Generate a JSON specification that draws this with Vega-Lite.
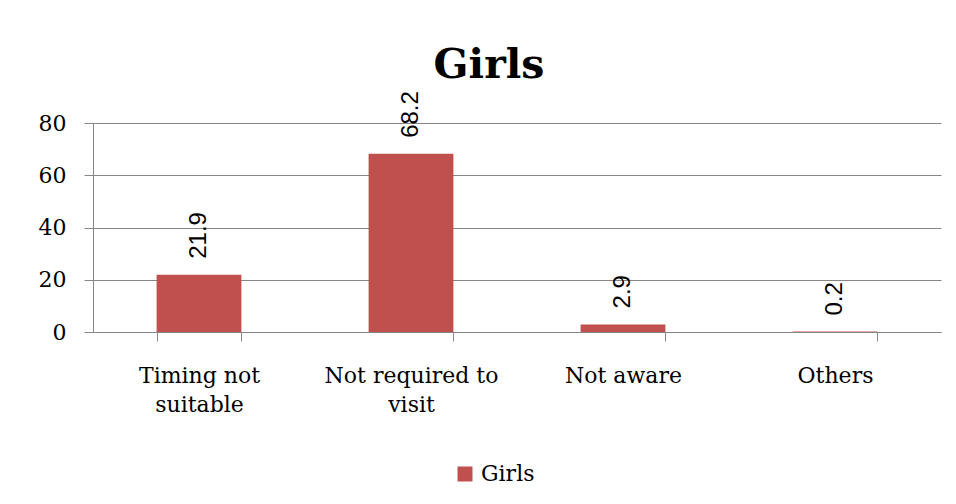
{
  "$schema": "https://vega.github.io/schema/vega-lite/v6.json",
  "width": 848,
  "height": 209,
  "autosize": {"type": "none"},
  "padding": {"left": 93, "top": 123, "right": 15, "bottom": 172},
  "background": "white",
  "title": {
    "text": "Girls",
    "font": "DejaVu Serif",
    "fontSize": 41,
    "fontWeight": "bold",
    "color": "#000000",
    "anchor": "middle",
    "dx": -28,
    "offset": 4
  },
  "data": {
    "values": [
      {"reason": "Timing not suitable", "value": 21.9, "series": "Girls"},
      {"reason": "Not required to visit", "value": 68.2, "series": "Girls"},
      {"reason": "Not aware", "value": 2.9, "series": "Girls"},
      {"reason": "Others", "value": 0.2, "series": "Girls"}
    ]
  },
  "encoding": {
    "x": {
      "field": "reason",
      "type": "nominal",
      "sort": null,
      "scale": {"paddingInner": 0.6, "paddingOuter": 0.3},
      "axis": {
        "title": null,
        "labelAngle": 0,
        "labelFont": "DejaVu Serif",
        "labelFontSize": 22,
        "labelColor": "#000000",
        "labelLineHeight": 29,
        "labelPadding": 24,
        "labelExpr": "datum.label == 'Timing not suitable' ? ['Timing not', 'suitable'] : datum.label == 'Not required to visit' ? ['Not required to', 'visit'] : datum.label",
        "tickBand": "extent",
        "tickSize": 9,
        "tickColor": "#868686",
        "domain": true,
        "domainColor": "#868686",
        "grid": false
      }
    },
    "y": {
      "field": "value",
      "type": "quantitative",
      "scale": {"domain": [0, 80]},
      "axis": {
        "title": null,
        "values": [0, 20, 40, 60, 80],
        "labelFont": "DejaVu Serif",
        "labelFontSize": 22,
        "labelColor": "#000000",
        "labelPadding": 18,
        "tickSize": 9,
        "tickColor": "#868686",
        "domain": true,
        "domainColor": "#868686",
        "gridColor": "#868686",
        "gridWidth": 1
      }
    }
  },
  "layer": [
    {
      "mark": {"type": "bar"},
      "encoding": {
        "color": {
          "field": "series",
          "type": "nominal",
          "scale": {"range": ["#C0504D"]},
          "legend": {
            "title": null,
            "orient": "none",
            "legendX": 361,
            "legendY": 340,
            "padding": 0,
            "symbolType": "square",
            "symbolSize": 225,
            "symbolStrokeWidth": 0,
            "labelFont": "DejaVu Serif",
            "labelFontSize": 22,
            "labelColor": "#000000",
            "labelOffset": 5
          }
        }
      }
    },
    {
      "mark": {
        "type": "text",
        "angle": 270,
        "align": "left",
        "baseline": "middle",
        "dx": 16,
        "font": "Liberation Sans",
        "fontSize": 24,
        "color": "#000000"
      },
      "encoding": {
        "text": {"field": "value", "type": "quantitative", "format": ".1f"}
      }
    }
  ],
  "config": {
    "view": {"stroke": null}
  }
}
